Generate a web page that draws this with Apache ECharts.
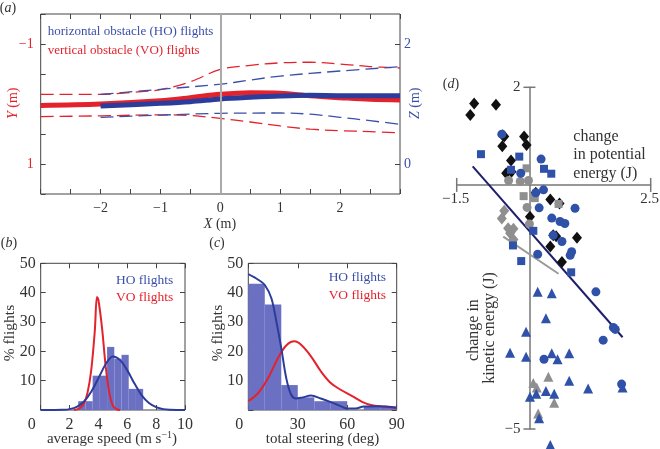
<!DOCTYPE html>
<html><head><meta charset="utf-8">
<script src="https://cdn.jsdelivr.net/npm/echarts@6/dist/echarts.min.js"></script>
<style>html,body{margin:0;padding:0;background:#fff}#c{width:660px;height:449px}</style>
</head><body><div id="c"></div>
<script>
// ---------- (a) mean trajectories and spread: [X (m), Y or Z (m)] ----------
const voMean  = [[-3,0.024],[-2,0],[-1,-0.054],[-0.5,-0.106],[0,-0.162],[0.5,-0.188],[1,-0.18],[1.5,-0.138],[2,-0.106],[2.5,-0.078],[3,-0.067]];
const voUpper = [[-3,-0.162],[-2,-0.162],[-1.5,-0.192],[-1,-0.24],[-0.5,-0.372],[0,-0.576],[0.5,-0.644],[1,-0.686],[1.5,-0.696],[2,-0.666],[2.5,-0.624],[3,-0.6]];
const voLower = [[-3,0.21],[-2,0.198],[-1,0.18],[-0.5,0.192],[0,0.24],[0.5,0.3],[1,0.366],[1.5,0.42],[2,0.444],[2.5,0.462],[3,0.48]];
const hoMean  = [[-2,0.967],[-1,1.011],[-0.5,1.039],[0,1.083],[0.5,1.111],[1,1.133],[1.5,1.144],[2,1.139],[2.5,1.139],[3,1.139]];
const hoUpper = [[-2,1.16],[-1,1.245],[0,1.33],[0.5,1.4],[1,1.465],[2,1.55],[3,1.62]];
const hoLower = [[-2,0.778],[-1,0.815],[0,0.845],[1,0.85],[1.5,0.83],[2,0.778],[2.5,0.722],[3,0.662]];
const aXLabels = [-2,-1,0,1,2];
const aYLabels = [-1,1];
const aZLabels = [0,2];

// ---------- (b) average speed: histogram bins [lo, hi, %] and fitted curves ----------
const speedBinsHO = [[2.6,3.1,3],[3.1,3.6,3],[3.6,4.1,11.7],[4.1,4.6,11.7],[4.6,5.1,21.5],[5.1,5.6,17.5],[5.6,6.1,18.8],[6.1,6.6,7.2],[6.6,7.1,7.2]];
const speedCurveHO = [[0,0],[1,0],[1.5,0.05],[2,0.3],[2.5,1.1],[3,2.9],[3.5,6.2],[4,10.8],[4.5,15.6],[5,18.2],[5.5,17],[6,13.5],[6.5,9],[7,5],[7.5,2.4],[8,1],[8.5,0.3],[9,0.1],[10,0]];
const speedCurveVO = [[2.3,0],[2.5,0.2],[2.75,0.8],[3,2.2],[3.25,6],[3.5,13.5],[3.75,27],[3.9,38.5],[4.0,37.5],[4.25,28],[4.5,15],[4.75,6],[5,1.5],[5.25,0.3],[5.5,0]];

// ---------- (c) total steering ----------
const steerBinsHO = [[0,10,43],[10,20,36],[20,30,8.5],[30,40,4.3],[40,50,3],[50,60,3],[70,80,1.2],[80,90,1.2]];
const steerCurveHO = [[0,46.3],[6,44.4],[10,42.6],[14,38.1],[17,30.2],[20,21.1],[23,10.9],[26,5.2],[29,3.9],[33,4.3],[38,4.9],[44,3.9],[50,2.7],[56,1.3],[60,0.5],[65,0.5],[70,1.2],[79,1.3],[90,0.8]];
const steerCurveVO = [[0,3.0],[6,5.8],[12,10.9],[18,17.7],[23,22],[28,23.4],[32,22.2],[38,18.3],[44,13.2],[50,9.2],[56,6.9],[63,4.7],[69,2.8],[75,1.6],[81,1.2],[90,0.7]];

// ---------- (d) energy changes: [change in potential (J), change in kinetic (J)] ----------
const blackDiamonds = [[-1.14,1.67],[-1.22,1.43],[-0.69,1.64],[-0.55,1.02],[-0.52,0.99],[-0.56,0.79],[-0.11,0.99],[-0.06,0.82],[-0.38,0.5],[-0.48,0.24],[-0.37,0.27],[0.13,-0.16],[0.43,-0.3],[0.62,-0.38],[0.01,-0.65],[0.55,-1.05],[0.49,-1.03],[0.98,-1.08],[0.43,-1.26],[0.67,-1.58]];
const blueCircles = [[-0.57,1.04],[0.24,0.53],[-0.18,0.24],[0.29,-0.1],[0.13,-0.16],[0.2,-0.47],[0.94,-0.48],[0.46,-0.68],[0.63,-0.75],[0.73,-0.79],[0.49,-1.03],[0.67,-1.16],[0.87,-1.37],[0.84,-1.44],[0.17,-1.42],[1.37,-2.19],[1.73,-2.92],[1.77,-2.96],[1.52,-3.18],[0.3,-3.57],[1.9,-4.08]];
const blueSquares = [[-1.0,0.63],[-0.21,0.58],[0.3,0.33],[0.45,0.23],[-0.38,0.31],[0.08,-0.94],[-0.34,-1.24],[-0.17,-1.56],[0.86,-1.79]];
const grayCircles = [[-0.43,0.09],[-0.19,0.07],[-0.02,0.09],[-0.05,-0.46],[0.0,-0.8]];
const graySquares = [[-0.06,0.34],[-0.12,-0.23],[0.11,-0.27],[0.6,-0.39]];
const grayDiamonds = [[-0.52,-0.53],[-0.57,-0.69],[-0.44,-0.89],[-0.33,-0.9],[-0.4,-0.99],[-0.33,-1.12]];
const blueTriangles = [[0.17,-2.19],[0.46,-2.22],[0.34,-2.73],[-0.07,-3.01],[-0.4,-3.44],[-0.07,-3.52],[0.46,-3.45],[0.58,-3.57],[0.82,-3.45],[0.82,-4.01],[1.21,-4.17],[1.92,-4.15],[0.01,-4.34],[0.14,-4.28],[0.34,-4.22],[0.51,-4.28],[0.2,-4.78],[0.43,-5.33]];
const grayTriangles = [[0.39,-3.93],[0.08,-4.06],[0.15,-4.15],[0.51,-4.46],[0.18,-4.68]];
const fitAll = [[-1.17,0.38],[1.92,-3.12]];
const fitGray = [[-0.54,-1.06],[0.6,-1.82]];
const dXLabels = [-1.5,2.5];
const dYLabels = [2,-5];

// ---------- styling ----------
const SERIF = '"Liberation Serif","DejaVu Serif",serif';
const RED = '#e4222c', BLUE = '#2c3c9a', BLUE_T = '#3b4fa8', HIST = '#6b70c3', AX = '#444', TXT = '#333';
const DBLUE = '#2f51a8', GRAY = '#8f8f8f', NAVY = '#1e1e6c', DAX = '#777';
const fmt = v => (v < 0 ? '\u2212' : '') + Math.abs(v);

const chart = echarts.init(document.getElementById('c'), null, {renderer: 'canvas'});

function boxX(grid, min, max, interval, pos, showLabel, fs) {
  return {
    gridIndex: grid, type: 'value', min, max, interval, position: pos,
    axisLine: {show: false, onZero: false}, splitLine: {show: false},
    axisTick: {show: true, inside: true, length: 5, lineStyle: {color: AX}},
    axisLabel: {show: showLabel, color: TXT, fontFamily: SERIF, fontSize: fs, margin: 7, formatter: fmt}
  };
}
function boxY(grid, min, max, interval, pos, showLabel, fs) {
  return {
    gridIndex: grid, type: 'value', min, max, interval, position: pos,
    axisLine: {show: false, onZero: false}, splitLine: {show: false},
    axisTick: {show: true, inside: true, length: 5, lineStyle: {color: AX}},
    axisLabel: {show: showLabel, color: TXT, fontFamily: SERIF, fontSize: fs, margin: 5, formatter: fmt}
  };
}
const zeroShift = {formatter: v => v === 0 ? '{z|0}' : String(v), rich: {z: {padding: [0, 18, 0, 0], fontFamily: SERIF, fontSize: 16, color: TXT}}};

const histRender = (params, api) => {
  const p0 = api.coord([api.value(0), api.value(2)]);
  const p1 = api.coord([api.value(1), 0]);
  return {type: 'rect', shape: {x: p0[0], y: p0[1], width: p1[0] - p0[0], height: p1[1] - p0[1]}, style: {fill: HIST}};
};

const gridBase = {show: true, borderColor: AX, borderWidth: 1, outerBoundsMode: 'none', containLabel: false};

const option = {
  animation: false,
  backgroundColor: '#fff',
  grid: [
    Object.assign({left: 40.7, top: 14, width: 359.3, height: 180}, gridBase),
    Object.assign({left: 40.7, top: 263.3, width: 144.3, height: 146.7}, gridBase),
    Object.assign({left: 248.3, top: 263.3, width: 148.4, height: 146.7}, gridBase),
    {left: 456.7, top: 87.3, width: 194, height: 341.7, show: false, outerBoundsMode: 'none', containLabel: false}
  ],
  xAxis: [
    boxX(0, -3, 3, 0.5, 'bottom', true, 14),
    boxX(0, -3, 3, 0.5, 'top', false, 14),
    boxX(1, 0, 10, 2, 'bottom', true, 16),
    boxX(1, 0, 10, 2, 'top', false, 16),
    boxX(2, 0, 90, 30, 'bottom', true, 16),
    boxX(2, 0, 90, 30, 'top', false, 16),
    {gridIndex: 3, type: 'value', min: -1.5, max: 2.5,
      axisLine: {onZero: true, lineStyle: {color: DAX, width: 1.5}}, splitLine: {show: false},
      axisTick: {show: false}, axisLabel: {show: false}}
  ],
  yAxis: [
    boxY(0, -1.5, 1.5, 0.5, 'left', true, 14),
    boxY(0, -0.5, 2.5, 0.5, 'right', true, 14),
    boxY(1, 0, 50, 10, 'left', true, 16),
    boxY(1, 0, 50, 10, 'right', false, 16),
    boxY(2, 0, 50, 10, 'left', true, 16),
    boxY(2, 0, 50, 10, 'right', false, 16),
    {gridIndex: 3, type: 'value', min: -5, max: 2,
      axisLine: {onZero: true, lineStyle: {color: DAX, width: 1.5}}, splitLine: {show: false},
      axisTick: {show: false}, axisLabel: {show: false}}
  ],
  series: []
};

// axis tweaks
option.xAxis[0].axisLabel.customValues = aXLabels;
option.yAxis[0].inverse = true;
option.yAxis[0].axisLabel.customValues = aYLabels;
option.yAxis[0].axisLabel.color = RED;
option.yAxis[0].axisLabel.margin = 7;
option.yAxis[1].axisTick.customValues = aZLabels;
option.yAxis[1].axisLabel.customValues = aZLabels;
option.yAxis[1].axisLabel.color = BLUE_T;
option.yAxis[1].axisLabel.margin = 4;
[2, 4].forEach(i => Object.assign(option.xAxis[i].axisLabel, zeroShift));
[2, 4].forEach(i => { option.yAxis[i].axisLabel.formatter = v => v === 0 ? '' : String(v); });

const line = (data, xi, yi, color, width, dashed, extra) => Object.assign({
  type: 'line', data, xAxisIndex: xi, yAxisIndex: yi, smooth: 0.35, showSymbol: false, silent: true,
  lineStyle: {color, width, type: dashed ? [13, 6] : 'solid'}, z: 3
}, extra || {});

option.series.push(
  line(voUpper, 0, 0, RED, 1.3, true, {markLine: {silent: true, symbol: 'none', label: {show: false},
    lineStyle: {color: '#aaa', width: 2, type: 'solid'}, data: [{xAxis: 0}]}}),
  line(voLower, 0, 0, RED, 1.3, true),
  line(hoUpper, 0, 1, BLUE_T, 1.3, true),
  line(hoLower, 0, 1, BLUE_T, 1.3, true),
  line(voMean, 0, 0, RED, 5, false),
  line(hoMean, 0, 1, BLUE, 5, false),
  {type: 'custom', xAxisIndex: 2, yAxisIndex: 2, data: speedBinsHO, renderItem: histRender, encode: {x: [0, 1], y: 2}, silent: true, z: 2},
  line(speedCurveVO, 2, 2, RED, 2, false),
  line(speedCurveHO, 2, 2, BLUE, 2, false),
  {type: 'custom', xAxisIndex: 4, yAxisIndex: 4, data: steerBinsHO, renderItem: histRender, encode: {x: [0, 1], y: 2}, silent: true, z: 2},
  line(steerCurveVO, 4, 4, RED, 2, false),
  line(steerCurveHO, 4, 4, BLUE, 2, false),
  line(fitAll, 6, 6, NAVY, 2, false, {smooth: false}),
  line(fitGray, 6, 6, '#9a9a9a', 2, false, {smooth: false})
);

const sc = (data, symbol, size, color) => ({type: 'scatter', xAxisIndex: 6, yAxisIndex: 6, data, symbol, symbolSize: size,
  itemStyle: {color, opacity: 1}, clip: false, silent: true, z: 4});
option.series.push(
  sc(blackDiamonds, 'diamond', [10, 12], '#111'),
  sc(grayDiamonds, 'diamond', [10, 12], GRAY),
  sc(grayCircles, 'circle', 9, GRAY),
  sc(graySquares, 'rect', 8, GRAY),
  sc(grayTriangles, 'triangle', 10, GRAY),
  sc(blueCircles, 'circle', 9, DBLUE),
  sc(blueSquares, 'rect', 8, DBLUE),
  sc(blueTriangles, 'triangle', 10, DBLUE)
);

const T = (text, x, y, o) => Object.assign({type: 'text', x, y, silent: true, z: 10,
  style: Object.assign({text, fill: TXT, fontFamily: SERIF, fontSize: 15, align: 'center', verticalAlign: 'middle'}, (o && o.style) || {})},
  o && o.rotation ? {rotation: o.rotation} : {});
const R = Math.PI / 2;
const itRich = c => ({i: {fontStyle: 'italic', fontFamily: SERIF, fontSize: 14, fill: c}, n: {fontFamily: SERIF, fontSize: 14, fill: c}});

const graphics = [
  T('', 8, 8, {style: {text: '{n|(}{i|a}{n|)}', rich: itRich(TXT)}}),
  T('horizontal obstacle (HO) flights', 47.7, 31.3, {style: {fill: BLUE_T, fontSize: 13, align: 'left'}}),
  T('vertical obstacle (VO) flights', 47.7, 51, {style: {fill: RED, fontSize: 13, align: 'left'}}),
  T('', 13.5, 103.3, {rotation: R, style: {text: '{i|Y}{n| (m)}', rich: itRich(RED)}}),
  T('', 415, 103.3, {rotation: R, style: {text: '{i|Z}{n| (m)}', rich: itRich(BLUE_T)}}),
  T('', 220, 224, {style: {text: '{i|X}{n| (m)}', rich: itRich(TXT)}}),

  T('', 9, 243, {style: {text: '{n|(}{i|b}{n|)}', rich: itRich(TXT)}}),
  T('HO flights', 173.3, 280, {style: {fill: BLUE_T, fontSize: 13.5, align: 'right'}}),
  T('VO flights', 173.3, 297.7, {style: {fill: RED, fontSize: 13.5, align: 'right'}}),
  T('% flights', 10, 333, {rotation: R, style: {fontSize: 15.5}}),
  T('', 112, 439, {style: {text: '{n|average speed (m s}{s|\u22121}{n|)}',
    rich: {n: {fontFamily: SERIF, fontSize: 15, fill: TXT}, s: {fontFamily: SERIF, fontSize: 10, fill: TXT, padding: [0, 0, 8, 0]}}}}),

  T('', 217, 243, {style: {text: '{n|(}{i|c}{n|)}', rich: itRich(TXT)}}),
  T('HO flights', 386, 277.7, {style: {fill: BLUE_T, fontSize: 13.5, align: 'right'}}),
  T('VO flights', 386, 295.7, {style: {fill: RED, fontSize: 13.5, align: 'right'}}),
  T('% flights', 218, 333, {rotation: R, style: {fontSize: 15.5}}),
  T('total steering (deg)', 322.5, 439, {}),

  T('', 451, 84, {style: {text: '{n|(}{i|d}{n|)}', rich: itRich(TXT)}}),
  T('change', 573.3, 136.7, {style: {fontSize: 16, align: 'left'}}),
  T('in potential', 573.3, 155, {style: {fontSize: 16, align: 'left'}}),
  T('energy (J)', 573.3, 173.3, {style: {fontSize: 16, align: 'left'}}),
  T('change in', 473.3, 330, {rotation: R, style: {fontSize: 16}}),
  T('kinetic energy (J)', 490, 328, {rotation: R, style: {fontSize: 16}})
];
option.graphic = graphics;
chart.setOption(option);

// (d): crossing tick marks and labels placed through the chart's own scale
const toPx = p => chart.convertToPixel({gridIndex: 3}, p);
const tickLine = (x1, y1, x2, y2) => ({type: 'line', silent: true, z: 9,
  shape: {x1, y1, x2, y2}, style: {stroke: DAX, lineWidth: 1.5}});
dXLabels.forEach(v => {
  const p = toPx([v, 0]);
  graphics.push(tickLine(p[0], p[1] - 7, p[0], p[1] + 7));
  graphics.push(T(fmt(v), p[0] - 1, p[1] + 14, {style: {fontSize: 15}}));
});
dYLabels.forEach(v => {
  const p = toPx([0, v]);
  graphics.push(tickLine(p[0] - 6, p[1], p[0] + 6, p[1]));
  graphics.push(T(fmt(v), p[0] - 9, p[1], {style: {fontSize: 15, align: 'right'}}));
});
chart.setOption({graphic: graphics});
</script></body></html>
